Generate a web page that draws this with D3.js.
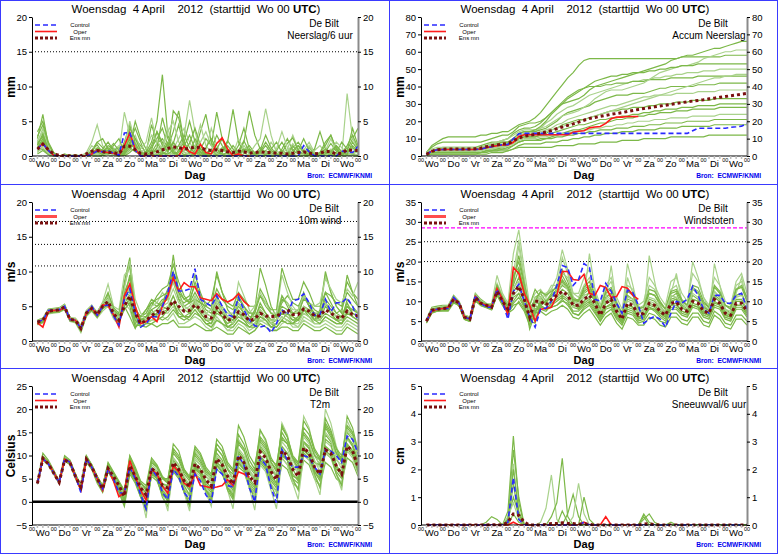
<!DOCTYPE html>
<html>
<head>
<meta charset="utf-8">
<script src="https://cdn.jsdelivr.net/npm/d3@7"></script>
<style>
  body { margin: 0; background: #fff; }
  svg { display: block; font-family: "Liberation Sans", Arial, sans-serif; }
  text { white-space: pre; }
</style>
</head>
<body>
<svg id="chart" width="778" height="554"></svg>
<script>
// time axis: forecast hours after Wo 00 UTC, every 6 hours up to 360
const hours = d3.range(6, 361, 6);
const dayLabels = ['Wo','Do','Vr','Za','Zo','Ma','Di','Wo','Do','Vr','Za','Zo','Ma','Di','Wo'];

// --- Neerslag/6 uur (mm)
const precip6hMembers = [
  [1.5,3.0,1.2,0.2, 0,0,0,0, 0,0,0.3,1.2, 0.8,0.3,0.5,0.2, 2.0,4.5,1.5,0.3, 0.5,2.0,5.0,11.7, 3.0,0.8,0.2,0, 0.5,1.5,0.6,0, 0,0.4,1.2,0.3, 0,0,0.8,1.5, 0.4,0,0,0, 0.2,0.8,0.3,0, 0,0.5,1.2,0.4, 0,0.2,0.8,1.5, 0.6,0.2,0.5,1.0],
  [2.5,6.0,1.5,0.3, 0,0,0,0, 0,0,0.8,2.0, 1.2,0.5,0.2,0, 1.0,2.5,0.8,0.2, 0,0.5,1.8,2.5, 1.2,3.5,6.5,2.0, 0.5,0.2,1.0,0.4, 0,0,0.5,2.0, 6.7,2.0,0.5,0, 0,0.3,0.8,0.2, 0,0,0.4,1.2, 2.0,0.8,0.2,0, 0.5,1.5,3.0,1.0, 0.3,0.8,2.5,4.0],
  [0.5,1.5,0.8,0, 0,0,0.2,0, 0,0.5,2.0,4.5, 1.5,0.8,1.2,0.5, 6.3,3.0,0.8,0.5, 0,0,0.5,1.5, 4.0,1.5,0.5,3.0, 8.0,3.5,0.8,0.3, 1.0,0.3,0,0, 0,0.5,1.5,0.5, 0,0,0.6,2.0, 0.8,0.2,0,0, 0,0,0.3,0.8, 1.5,0.5,0,0, 0,9.0,2.5,1.0],
  [3.5,5.0,2.0,0.5, 0,0,0,0, 0,0,0,0.5, 1.0,2.0,0.8,0.3, 0.5,1.5,5.0,2.5, 1.0,0.3,0,0.5, 2.0,0.8,0,0, 0,0.5,1.0,2.5, 1.5,6.3,2.5,0.5, 0,0,0.3,1.0, 0.5,0,0,0, 0,1.0,2.5,0.8, 0.3,0,0,0, 0.2,0.6,0.3,0, 0,0.5,1.2,0.4],
  [1.0,2.0,0.5,0, 0,0.3,0,0, 0,0,0.6,2.0, 2.5,1.0,0.4,0, 0.3,3.0,1.0,0, 0,0.8,3.5,1.5, 0.5,6.5,5.5,2.0, 0.5,0,0,0.5, 0.8,0.2,0,0, 0,0.5,2.0,6.5, 3.0,1.0,0.2,0, 0,0,0.5,1.5, 0.5,0,0,0, 0,0,0.4,1.2, 0.3,0,0.5,0.8],
  [2.0,4.0,1.5,0, 0,0,0,0, 0,0.2,1.5,0.8, 0.3,0.5,0.2,0.8, 1.5,5.0,2.0,0.5, 0,0.3,1.0,0.5, 0.2,1.0,2.5,4.0, 2.0,0.5,0,0, 0,0.3,0.8,0.5, 0,0,0,0.3, 1.5,2.5,6.8,3.0, 0.5,0,0,0, 0,0.8,2.0,0.5, 0,0.3,1.0,0.3, 0,0.2,0.5,0],
  [1.2,2.5,0.6,0, 0,0,0,0.2, 0,0,0.3,0.6, 0.2,1.5,1.0,0.5, 0.2,0.8,2.5,1.5, 0.5,4.5,2.0,0.5, 0,0,0.8,2.0, 5.0,2.0,0.5,0, 0,0,0.6,1.5, 0.5,0,0,0, 0,0.5,1.5,0.5, 0,0,0,0.5, 1.5,0.6,0.2,0, 0,0,0.2,0.5, 2.0,1.0,0.3,0],
  [0.8,1.0,0.3,0, 0,0,0,0, 0,0,0.5,0.3, 0,0.5,1.5,2.5, 0.5,2.0,4.0,2.0, 0,0,0.2,0.8, 1.5,0.5,0,0.2, 0,0.8,3.5,6.0, 2.0,0.5,0,0, 0,0.3,1.0,0.4, 0,0,0,0.3, 0.8,2.0,0.6,0, 0,0,0.3,1.0, 3.5,1.0,0.2,0, 0,0,0.3,1.5],
  [2.2,3.5,1.0,0.2, 0,0,0,0, 0,0,0,0.2, 0.5,0.2,0,0.3, 0,1.0,3.0,1.0, 2.0,5.5,1.5,0.2, 0,0.5,1.5,0.5, 0,0,0.3,0.8, 4.0,1.5,0.3,0, 0,0,0,0, 0.3,0.8,0.3,0, 0,0.4,1.0,3.0, 1.0,0.2,0,0, 0,0.8,2.5,0.8, 0,0.3,0,0.2],
  [0.3,0.8,0.2,0, 0,0,0,0, 0,0,0,0, 0,0.3,0.6,0.3, 0,0.5,1.2,0.5, 0,0,0,0.3, 0.8,2.0,0.8,0.2, 0,0.3,0.6,0.2, 0,0,0.2,0.5, 1.5,0.5,0,0, 0,0,0.3,0.6, 0.2,0,0,0, 0,0.3,0.8,0.2, 0,0,0,0.3, 0.6,0.2,0,0],
  [1.8,2.8,0.8,0.1, 0,0,0,0, 0,0,0.4,1.0, 0.6,0.8,0.3,0.1, 0.4,1.8,1.0,0.3, 0.3,1.2,2.5,4.0, 1.5,0.3,0.5,1.5, 3.0,1.0,0.2,0, 0.3,1.0,2.5,1.0, 0.2,1.5,4.0,1.0, 0,0,0.2,1.0, 2.0,0.5,0,0, 0,0.2,0.5,0.2, 0.5,2.0,3.0,1.0, 0.2,0.6,1.5,0.6],
  [1.0,1.8,0.5,0, 0,0,0,0, 0,0,0.2,0.4, 0.3,0.2,0.8,1.5, 0.6,3.5,0.8,0, 0,0.2,0.8,1.0, 0.5,0.2,0,0, 0,1.5,4.5,1.5, 0.5,0,0,0.2, 0.8,0.3,0,0, 0,0.2,0.5,0.2, 0,0,0.6,1.8, 0.6,0,0,0, 0,0.2,0.5,0.2, 0,0,0.4,0.6],
  [1.2,2.2,1.0,0.2, 0,0,0,0, 0,0,0.5,1.0, 0.8,1.2,0.6,0.3, 0.8,2.8,1.8,0.4, 0.2,1.5,3.5,2.0, 0.6,1.8,4.5,1.2, 0.3,2.5,1.0,0.2, 0.8,3.0,1.5,0.4, 0,0.8,2.2,0.6, 0.3,1.2,0.5,0, 0,0.5,1.8,2.6, 0.8,0.2,0,0, 0,0.6,1.8,0.7, 0.4,1.5,3.0,1.2],
  [2.8,4.5,1.8,0.4, 0,0,0,0, 0,0.1,0.8,1.6, 0.5,0.3,0.8,1.2, 0.5,4.0,2.5,0.8, 0,0.3,1.2,5.5, 2.5,0.6,0.2,0.8, 1.8,4.0,1.5,0.3, 0,0.2,0.8,2.2, 1.0,0.3,0,0, 0,0.8,3.0,1.2, 0.2,0,0.3,0.8, 1.5,0.5,0,0, 0.3,1.0,0.6,0, 0,0.8,4.0,1.5],
  [0.6,1.2,0.4,0, 0,0,0,0, 0,0,0,0.3, 0.4,0.6,0.3,0.5, 1.2,3.2,1.2,0.6, 1.0,3.0,2.2,1.0, 3.5,5.0,2.0,0.6, 0.2,0.6,2.0,3.5, 1.5,0.4,0,0, 0.3,2.5,1.0,0.3, 0,0,0.5,0.3, 1.0,3.5,1.2,0.3, 0,0.3,1.5,0.5, 0,0,0.6,2.0, 1.2,0.4,0,0.3],
  [1.6,3.2,1.0,0.1, 0,0,0,0, 0,0,0.2,0.6, 0.2,0.8,1.8,0.8, 0.3,1.2,0.6,0.2, 0.5,0.8,0.6,0.4, 0.3,0.8,1.5,3.0, 1.2,0.4,0.2,1.2, 2.5,1.0,0.3,0, 0,0.4,1.0,0.8, 0.2,0.6,2.0,0.8, 0.3,0,0,0.2, 0.8,2.5,0.8,0.2, 0,0.3,0.6,1.5, 0.6,0.2,2.0,0.8]
];
const precip6hControl = [1.0,1.8,0.8,0.1, 0,0,0,0, 0,0,0.3,0.7, 0.6,0.8,0.4,0.1, 3.3,3.4,0.8,0, 0,0,0,0, 0,0,0,0, 0,0,0,0, 0,0,0,0, 0,0,0,0, 0,0,0,0, 0,0,0,0, 0,1.5,0.6,0, 0,0,0,0, 0.7,0.6,0.5,1.4];
const precip6hOper = [1.0,1.8,0.8,0.1, 0,0,0,0, 0,0,0.3,0.8, 0.6,0.5,0.4,0.1, 1.5,3.3,1.0,0, 0,0,0,0, 0,0,0,1.4, 0.6,0.3,1.7,0.5, 0.3,1.8,2.6,1.0, 0,0.3,0,0];
const precip6hMean = [1.0,1.7,0.9,0.3, 0.1,0.05,0.05,0.05, 0.05,0.3,0.7,0.8, 0.6,0.5,0.5,0.3, 1.4,1.4,0.9,0.4, 0.3,0.4,0.6,0.9, 1.1,1.3,1.2,1.0, 1.1,1.3,1.2,0.9, 0.8,0.9,0.8,0.6, 0.5,0.7,0.6,0.4, 0.5,0.6,0.5,0.5, 0.4,0.4,0.3,0.4, 0.5,0.6,0.4,0.3, 0.4,0.7,0.6,0.3, 0.4,0.9,0.8,0.8];

// --- Accum Neerslag (mm)
const precipAccMembers = [
  [1,3,4,5, 5,5,5,5, 5,5,6,7, 8,8,9,10, 13,15,16,16, 17,19,22,25, 28,30,31,32, 33,35,38,40, 41,42,43,44, 45,46,47,48, 49,50,51,52, 53,55,56,57, 58,58,59,60, 61,62,62,63, 64,65,66,66],
  [2,6,8,10, 11,11,11,11, 11,11,12,12, 13,13,14,14, 16,18,19,20, 22,25,29,33, 37,41,45,48, 52,55,56,56, 56,56,56,56, 56,56,56,56, 56,56,56,56, 56,56,56,57, 57,57,57,57, 57,57,57,58, 58,58,58,58],
  [1,2,3,3, 3,3,3,3, 3,3,4,5, 6,6,7,7, 9,12,13,13, 14,16,19,21, 24,26,28,29, 31,33,35,36, 37,38,39,40, 41,42,43,43, 44,44,45,45, 46,46,47,47, 48,48,48,49, 49,49,50,50, 50,50,50,50],
  [2,5,7,8, 8,8,8,8, 8,8,8,9, 10,11,12,12, 14,17,18,19, 19,20,22,25, 28,31,34,36, 38,39,40,40, 40,41,41,42, 42,42,43,43, 43,44,44,44, 44,45,45,45, 45,45,46,46, 46,46,46,46, 46,46,46,46],
  [1,3,4,4, 4,4,4,4, 4,4,5,6, 7,7,8,8, 10,13,14,14, 14,15,16,18, 20,23,25,26, 27,28,29,31, 32,33,34,35, 35,35,36,36, 36,37,38,39, 39,40,40,40, 40,40,41,41, 41,41,42,42, 42,42,42,42],
  [1,2,2,2, 2,2,2,2, 2,2,3,4, 5,5,6,7, 9,11,12,12, 13,14,15,16, 18,19,21,22, 23,24,25,26, 27,28,29,29, 30,31,32,33, 34,34,35,35, 35,35,36,36, 36,36,37,37, 37,37,38,38, 38,38,38,38],
  [0.5,1,1,1, 1,1,1,1, 1,1,2,3, 4,4,5,6, 8,10,11,11, 11,12,13,15, 16,18,19,20, 21,21,22,23, 24,25,26,26, 27,27,28,28, 28,29,29,30, 30,30,31,31, 31,32,32,32, 32,33,33,33, 33,33,33,33],
  [1,2,2,2, 2,2,2,2, 2,2,2,3, 3,3,4,4, 6,8,9,9, 9,10,10,11, 12,13,14,15, 15,16,17,18, 19,19,20,21, 21,22,22,23, 23,24,24,25, 25,25,26,26, 26,27,27,27, 27,27,28,28, 28,28,28,28],
  [1,2,3,3, 3,3,3,3, 3,3,3,4, 4,5,5,6, 7,9,10,10, 10,11,11,12, 12,13,13,14, 14,15,15,16, 16,17,17,18, 18,19,19,20, 20,20,21,21, 21,22,22,22, 22,23,23,23, 23,23,24,24, 24,24,24,24],
  [0.5,1,1,1, 1,1,1,1, 1,1,1,1, 2,2,2,3, 4,6,7,7, 7,7,8,8, 8,9,9,10, 10,11,11,12, 12,13,13,13, 14,14,14,15, 15,15,15,16, 16,16,16,17, 17,17,17,17, 17,18,18,18, 18,18,18,18],
  [1,2,2,2, 2,2,2,2, 2,2,2,2, 3,3,3,3, 4,5,5,5, 5,5,5,5, 6,6,6,6, 7,7,7,7, 8,8,8,8, 9,9,9,9, 10,10,10,10, 10,11,11,11, 11,11,11,11, 12,12,12,12, 12,12,12,12],
  [2,4,5,5, 5,5,5,5, 5,5,5,6, 7,8,9,10, 12,14,15,15, 15,16,17,19, 21,23,24,25, 26,28,30,33, 35,37,38,38, 38,39,40,41, 42,44,46,48, 49,50,51,52, 52,53,54,56, 57,58,59,60, 60,61,61,61],
  [1,2,3,3, 3,3,3,3, 3,3,4,5, 6,7,8,8, 10,13,14,14, 15,17,20,24, 27,30,33,35, 37,39,41,43, 44,45,46,46, 47,47,48,48, 48,49,49,50, 50,51,51,52, 52,52,53,53, 53,53,53,53, 53,53,53,53],
  [1,3,4,4, 4,4,4,4, 4,4,4,5, 5,6,6,7, 8,10,11,11, 11,12,12,13, 14,15,16,17, 18,18,19,20, 21,21,22,22, 23,23,24,24, 25,25,26,26, 27,27,27,28, 28,28,29,29, 29,29,30,30, 30,30,30,30],
  [1,2,3,3, 3,3,3,3, 3,3,3,4, 5,5,6,6, 8,11,12,12, 12,13,14,15, 16,17,18,19, 20,21,22,23, 24,25,26,27, 28,29,30,31, 32,33,34,35, 36,37,38,39, 40,41,42,43, 44,45,45,46, 46,47,47,47],
  [1,2,2,2, 2,2,2,2, 2,2,2,3, 3,4,4,5, 6,8,9,9, 9,9,10,10, 11,11,12,12, 13,13,14,14, 15,15,15,16, 16,16,17,17, 17,18,18,18, 19,19,19,19, 20,20,20,20, 20,21,21,21, 21,21,21,21]
];
const precipAccControl = [1.0,2.8,3.6,3.7, 3.7,3.7,3.7,3.7, 3.7,3.7,4.0,4.7, 5.3,6.1,6.5,6.6, 9.9,12.8,13.0,13.0, 13.0,13.0,13.0,13.0, 13.0,13.0,13.0,13.0, 13.0,13.0,13.0,13.0, 13.0,13.0,13.0,13.0, 13.0,13.0,13.0,13.0, 13.0,13.0,13.0,13.0, 13.0,13.0,13.0,13.0, 13.0,14.5,16.0,16.0, 16.0,16.0,16.0,16.0, 16.5,16.8,17.2,18.8];
const precipAccOper = [1.0,2.8,3.6,3.7, 3.7,3.7,3.7,3.7, 3.7,3.7,4.0,4.8, 5.4,5.9,6.3,6.4, 7.9,11.2,12.2,12.2, 12.2,12.2,12.2,12.2, 12.2,12.2,12.2,13.6, 14.2,14.5,16.2,16.7, 17.0,18.8,21.4,22.4, 22.4,22.7,22.7,22.7];
const precipAccMean = [1.0,2.7,3.6,3.9, 4.0,4.0,4.0,4.0, 4.1,4.2,4.5,5.3, 5.9,6.4,6.9,7.2, 8.6,10.4,11.3,12.0, 12.5,13.1,13.8,14.7, 15.7,16.7,17.6,18.5, 19.5,20.6,21.6,22.2, 22.8,23.4,24.0,24.5, 25.0,25.6,26.2,26.8, 27.3,27.8,28.3,28.8, 29.2,29.7,30.2,30.7, 31.2,31.6,32.0,32.4, 32.9,33.3,33.8,34.2, 34.7,35.1,35.6,36.0];

// --- 10m wind (m/s)
const windMembers = [
  [2.5,2.8,4.0,4.2, 4.3,4.6,3.0,2.8, 1.5,3.8,4.5,3.5, 4.8,5.5,3.8,2.5, 7.0,9.0,3.5,2.5, 3.0,4.5,5.0,6.0, 6.0,9.5,6.0,4.5, 4.0,5.0,4.0,3.0, 2.5,4.5,3.5,2.0, 2.5,3.5,3.0,2.0, 2.5,4.0,3.5,2.5, 2.0,3.0,4.0,3.5, 3.0,4.0,3.5,2.5, 2.5,3.5,3.0,2.5, 2.5,4.5,3.5,3.0],
  [3.0,3.3,4.6,4.7, 4.8,5.3,3.3,3.1, 2.0,4.3,5.0,4.2, 5.5,6.2,4.5,3.5, 8.5,12.0,4.5,3.5, 3.5,4.0,4.5,5.5, 6.0,12.4,7.0,5.0, 5.5,7.0,5.5,4.0, 3.5,6.0,4.5,3.0, 3.5,5.5,4.0,3.0, 4.0,7.5,6.0,4.0, 3.5,6.0,5.5,4.0, 4.5,7.0,5.0,3.5, 3.5,5.5,4.0,3.0, 3.0,6.0,5.0,4.0],
  [2.3,2.6,3.9,4.0, 4.1,4.5,2.8,2.6, 1.2,3.5,4.3,3.3, 4.3,5.0,3.2,2.2, 5.5,4.5,2.0,2.5, 3.0,3.5,3.5,4.0, 4.0,5.0,3.5,3.0, 3.5,4.5,3.5,2.5, 2.0,3.5,2.5,1.5, 2.0,3.0,2.5,1.5, 2.0,3.0,2.5,2.0, 1.5,2.5,3.0,2.5, 2.0,3.0,2.5,2.0, 2.0,2.5,2.0,1.5, 1.5,2.5,2.0,1.5],
  [2.8,3.2,4.4,4.5, 4.6,5.0,3.2,3.1, 2.2,4.2,4.9,4.0, 5.2,6.5,4.5,3.8, 7.5,7.0,3.0,3.5, 4.5,5.5,5.0,5.5, 7.5,8.5,6.0,5.5, 6.0,8.0,6.0,4.5, 4.0,6.5,5.0,3.5, 3.0,6.5,5.0,3.5, 3.5,5.0,4.0,3.0, 3.5,5.5,6.5,5.5, 5.0,6.5,5.0,4.0, 4.0,6.0,5.0,4.0, 4.5,7.0,6.0,5.0],
  [2.6,3.0,4.2,4.3, 4.4,4.8,3.0,2.9, 1.7,3.9,4.6,3.6, 4.9,5.8,4.0,3.2, 6.5,5.0,2.0,2.8, 3.5,4.0,3.8,4.2, 4.5,5.5,4.0,3.5, 3.0,4.0,3.5,2.5, 2.5,4.0,3.5,2.0, 2.5,4.5,3.5,2.5, 3.0,4.5,3.5,2.5, 3.0,4.0,3.5,3.0, 3.5,5.0,4.5,3.0, 3.0,4.0,3.5,3.0, 2.5,3.5,3.0,2.5],
  [2.9,3.1,4.5,4.6, 4.7,5.1,3.4,3.3, 2.3,4.4,5.2,4.1, 5.6,8.2,5.0,4.5, 9.5,10.5,3.0,3.0, 2.5,3.0,3.5,4.5, 5.0,6.5,4.5,4.5, 5.0,6.5,5.0,4.0, 3.5,5.5,4.0,3.0, 3.5,8.5,6.5,4.5, 3.0,4.0,3.0,2.5, 4.0,9.5,7.0,5.0, 4.0,5.0,4.0,3.0, 4.0,9.5,7.0,5.0, 4.0,5.0,4.5,4.0],
  [2.4,2.7,4.1,4.2, 4.2,4.7,2.9,2.7, 1.4,3.7,4.4,3.4, 4.6,5.2,3.6,2.6, 6.0,6.0,2.5,3.2, 3.0,3.5,4.0,5.0, 7.0,10.0,7.5,6.0, 6.5,9.5,7.0,5.0, 4.5,10.0,7.0,4.5, 3.5,5.0,4.0,2.5, 2.5,3.5,3.0,2.0, 2.5,3.5,3.0,2.5, 3.5,6.5,5.0,4.0, 3.0,5.0,4.0,3.0, 3.5,5.5,4.0,3.5],
  [2.7,3.1,4.3,4.4, 4.5,4.9,3.1,3.0, 1.9,4.1,4.8,3.8, 5.0,5.5,4.0,3.0, 5.0,3.5,1.8,3.5, 4.5,6.0,5.5,5.0, 4.5,5.5,3.5,3.5, 4.0,5.5,4.0,3.0, 3.0,4.5,3.5,2.5, 3.0,4.0,3.5,3.0, 4.5,10.5,8.0,5.0, 3.5,4.5,4.0,3.0, 3.0,4.5,3.5,3.0, 4.5,10.0,7.0,5.0, 4.0,9.5,7.0,5.0],
  [2.6,2.9,4.2,4.4, 4.4,4.8,3.0,2.9, 1.6,3.9,4.6,3.7, 5.1,6.0,3.8,2.8, 5.5,8.0,3.0,2.0, 2.5,3.0,3.0,3.5, 3.0,4.0,2.5,2.5, 3.0,3.5,3.0,2.0, 1.5,3.0,2.5,1.5, 1.5,2.5,2.0,1.0, 1.5,3.0,3.0,2.5, 2.5,3.5,3.0,2.0, 2.0,3.5,3.0,2.5, 2.5,3.0,2.5,2.0, 2.0,3.0,2.5,2.0],
  [2.8,3.0,4.4,4.5, 4.6,5.0,3.2,3.0, 1.8,4.1,4.7,3.9, 5.1,6.8,4.8,4.0, 8.0,11.0,5.0,3.0, 3.5,5.0,6.5,7.5, 8.0,11.0,8.5,6.5, 5.5,6.0,5.5,5.0, 6.0,9.5,7.0,5.5, 5.0,7.0,6.0,5.0, 5.0,6.5,5.5,4.5, 4.5,10.5,8.0,6.0, 6.0,8.5,7.0,5.0, 5.0,7.0,6.5,5.5, 5.0,8.5,7.0,6.0],
  [2.5,2.9,4.3,4.4, 4.5,4.9,3.1,2.9, 1.7,4.0,4.7,3.8, 4.9,5.6,3.9,3.1, 7.0,6.5,2.3,2.2, 2.5,2.5,2.0,2.5, 2.5,3.0,2.0,2.0, 2.0,2.5,2.0,1.5, 1.5,2.0,1.5,1.0, 1.0,2.0,1.5,1.0, 1.5,2.5,2.0,1.5, 1.5,2.0,2.0,1.5, 1.5,2.5,2.0,1.5, 1.5,2.0,1.5,1.0, 1.0,2.0,1.5,1.0],
  [2.7,3.0,4.3,4.4, 4.5,4.9,3.1,3.0, 1.8,4.0,4.7,3.8, 5.0,5.7,4.0,3.0, 6.5,7.5,2.8,3.5, 4.0,5.0,5.5,7.0, 6.0,8.5,6.5,5.0, 4.5,5.5,4.5,4.0, 4.5,6.0,5.0,4.0, 4.0,5.5,4.5,4.0, 5.0,7.0,5.5,4.0, 4.0,6.5,5.5,4.5, 4.5,6.5,5.5,5.0, 5.5,9.0,7.5,6.0, 5.5,7.5,6.5,8.5],
  [2.6,3.1,4.4,4.6, 4.6,5.2,3.3,3.1, 2.0,4.2,4.9,3.9, 5.3,7.0,4.5,3.5, 6.0,9.5,4.5,3.5, 4.0,5.5,6.0,6.5, 7.0,9.0,7.0,6.0, 5.5,8.5,6.5,5.5, 5.0,7.5,6.0,5.0, 4.5,6.0,5.0,4.0, 4.0,6.5,5.0,4.0, 3.5,5.0,4.5,4.0, 4.0,6.0,5.5,4.5, 4.0,5.5,4.5,3.5, 3.5,5.0,4.5,4.0],
  [2.5,2.7,4.0,4.1, 4.2,4.6,2.9,2.8, 1.6,3.8,4.5,3.6, 4.7,5.4,3.6,2.8, 4.5,5.5,3.5,3.0, 3.5,4.5,3.5,3.0, 3.5,4.5,3.5,3.0, 3.5,6.0,4.5,3.5, 3.0,5.0,4.0,3.0, 2.5,4.0,3.0,2.5, 3.0,5.5,4.0,3.0, 3.0,6.5,5.0,3.5, 3.0,4.5,4.0,3.0, 3.5,7.0,5.5,4.0, 3.5,5.0,4.0,3.5],
  [2.9,3.2,4.5,4.6, 4.7,5.2,3.3,3.2, 2.1,4.3,5.0,4.0, 5.4,6.4,4.3,3.4, 7.5,11.5,6.0,4.0, 3.0,4.0,4.5,5.0, 5.5,7.5,5.5,5.0, 4.5,6.0,4.5,3.5, 3.0,5.5,4.5,3.5, 2.5,4.5,3.5,2.5, 2.5,4.5,3.5,3.0, 3.0,4.5,3.5,2.5, 2.5,4.0,3.5,3.0, 3.0,5.5,4.5,3.5, 3.0,4.5,3.5,3.0],
  [2.4,2.8,4.1,4.3, 4.3,4.7,3.0,2.8, 1.5,3.8,4.5,3.6, 4.7,5.3,3.7,2.7, 5.0,6.0,3.0,2.2, 2.0,2.5,3.0,3.5, 4.5,6.5,4.5,3.5, 3.5,4.5,3.5,2.5, 2.0,3.0,2.5,2.0, 2.0,3.0,2.5,2.0, 2.0,3.5,3.0,2.0, 2.0,3.0,2.5,2.5, 3.0,4.5,4.0,3.0, 2.5,3.5,3.0,2.5, 2.5,4.0,3.5,3.0]
];
const windControl = [2.8,3.0,4.4,4.5, 4.5,5.0,3.1,3.0, 1.8,4.0,5.0,3.7, 5.0,5.2,3.6,2.3, 6.0,7.5,4.0,2.0, 2.5,3.5,3.5,5.0, 7.0,10.0,7.2,7.2, 7.5,10.4,6.0,5.5, 5.0,6.5,5.0,3.8, 3.5,6.3,4.5,3.0, 2.2,2.0,2.2,1.2, 2.5,4.5,3.8,5.8, 6.0,6.8,5.5,3.7, 3.8,6.0,4.2,5.5, 5.5,6.2,5.0,3.0];
const windOper = [2.6,2.0,4.2,4.4, 4.4,4.8,3.1,3.0, 1.8,4.0,4.8,3.7, 5.2,5.1,3.8,2.0, 6.5,8.2,5.0,2.5, 2.8,3.5,2.8,5.0, 6.5,9.1,7.2,8.4, 7.8,7.8,6.2,6.0, 5.8,6.8,6.0,5.6, 6.0,6.8,5.7,5.0];
const windMean = [2.7,3.0,4.3,4.4, 4.5,4.9,3.1,3.0, 1.8,4.0,4.7,3.8, 5.0,5.7,4.0,3.0, 5.0,6.5,4.0,2.5, 3.0,3.6,4.3,4.0, 4.6,5.8,5.0,4.3, 4.4,5.2,4.6,3.5, 3.3,4.8,3.8,3.0, 3.2,4.2,3.8,2.9, 3.2,4.0,3.6,3.5, 3.6,4.0,4.5,3.8, 3.8,4.6,4.3,3.6, 3.6,4.5,4.0,3.5, 3.3,4.3,3.8,3.6];

// --- Windstoten (m/s)
const gustMembers = [
  [5.5,8.5,8.8,9.0, 9.0,11.5,10.0,6.5, 6.0,12.0,10.5,9.5, 9.0,14.0,11.0,9.0, 16.0,20.0,14.0,8.0, 5.0,9.0,10.0,12.0, 14.0,18.0,15.0,11.0, 10.0,13.0,14.0,11.0, 7.0,11.0,12.0,8.0, 6.0,11.5,10.5,7.0, 8.0,12.0,11.5,9.0, 7.0,11.0,12.0,9.0, 8.0,13.0,12.0,9.0, 7.5,12.5,11.0,8.0, 7.0,11.5,12.0,9.0],
  [4.5,7.0,7.5,7.5, 7.5,9.5,9.0,5.5, 5.0,10.0,9.0,8.5, 8.0,11.5,9.0,7.0, 8.0,10.0,8.0,5.0, 8.0,9.0,8.0,8.5, 9.0,10.5,9.0,7.0, 6.5,8.0,9.0,7.0, 5.0,7.0,8.0,5.5, 4.0,7.0,6.5,4.5, 5.0,7.0,6.5,5.0, 4.5,7.0,7.0,5.5, 5.0,7.0,7.0,5.0, 4.5,7.5,6.5,4.5, 4.0,6.5,6.5,5.0],
  [5.2,8.0,8.2,8.5, 8.5,11.0,9.8,6.2, 5.8,11.5,10.0,9.2, 9.5,16.5,12.0,9.5, 22.0,28.0,18.0,9.0, 12.0,13.0,11.0,13.0, 16.0,23.0,18.0,12.0, 11.0,14.0,16.0,12.0, 8.0,13.0,15.0,10.0, 7.0,19.5,14.0,8.0, 9.0,14.0,13.0,10.0, 8.0,13.0,14.0,10.0, 9.0,20.0,16.0,11.0, 8.0,14.0,12.0,9.0, 8.0,14.0,15.0,10.0],
  [4.8,7.5,7.8,8.0, 8.0,10.0,9.0,5.8, 5.2,10.5,9.2,8.8, 8.0,12.0,9.5,7.5, 10.0,12.0,9.0,4.0, 9.0,8.0,7.5,9.0, 10.0,11.0,10.0,7.5, 7.5,9.0,10.0,8.0, 5.5,8.5,9.0,6.5, 4.5,8.0,7.5,5.5, 6.0,8.0,8.0,6.5, 5.5,8.5,8.5,7.0, 6.5,9.0,8.5,6.5, 6.0,9.0,8.5,6.0, 5.5,8.5,8.5,6.5],
  [5.0,7.8,8.0,8.2, 8.3,10.8,9.5,6.0, 5.5,11.0,9.5,9.0, 8.5,13.0,10.5,8.5, 13.0,16.0,12.0,7.0, 11.0,12.0,10.0,11.0, 12.0,14.0,13.0,10.0, 10.0,12.0,13.0,10.5, 7.0,11.0,12.0,8.5, 6.0,10.5,10.0,7.0, 7.5,10.5,10.0,8.0, 7.0,10.5,11.0,9.0, 8.0,11.5,10.5,8.5, 7.5,11.5,10.5,7.5, 7.0,10.5,10.5,8.0],
  [5.3,8.2,8.5,8.7, 8.8,11.2,10.0,6.5, 6.0,11.8,10.2,9.5, 9.0,13.5,10.5,8.0, 14.0,24.0,15.0,4.5, 6.0,11.0,11.5,14.0, 14.0,21.0,17.0,11.0, 9.0,11.0,22.0,13.0, 6.0,10.0,19.0,9.0, 5.0,16.0,12.0,6.0, 7.0,21.5,15.0,8.0, 6.0,12.0,17.0,10.0, 7.0,13.0,12.0,8.0, 6.0,19.5,14.0,8.0, 6.0,12.0,16.0,10.0],
  [4.7,7.3,7.6,7.8, 7.8,10.0,9.0,5.5, 5.0,10.5,9.0,8.5, 8.0,11.8,9.5,7.5, 11.0,12.0,9.0,5.0, 10.0,9.0,8.0,9.5, 10.5,11.5,10.5,8.5, 8.0,9.5,10.5,8.5, 6.0,8.5,9.5,7.0, 5.0,8.5,8.0,6.0, 6.5,8.5,8.0,7.0, 6.0,9.0,9.0,7.5, 7.0,9.0,8.5,7.0, 6.5,9.5,9.0,6.5, 6.0,9.0,9.0,7.0],
  [5.1,7.9,8.1,8.3, 8.4,10.6,9.6,6.1, 5.6,11.1,9.6,9.1, 8.6,12.6,10.2,8.2, 12.5,14.0,10.5,3.0, 7.0,10.0,9.0,10.0, 11.0,13.0,12.0,9.0, 8.5,10.0,11.0,9.0, 6.5,9.5,10.5,7.0, 5.0,9.0,8.5,6.0, 6.5,9.0,8.5,7.0, 6.0,9.0,9.5,7.5, 7.0,9.5,9.0,7.0, 6.5,10.0,9.0,6.5, 6.0,9.0,9.0,7.0],
  [4.9,7.6,7.9,8.1, 8.2,10.3,9.4,5.9, 5.4,10.8,9.4,8.9, 8.4,12.3,9.8,7.8, 11.5,13.0,10.0,6.0, 11.0,10.5,9.5,10.0, 11.0,12.0,11.0,8.5, 9.0,10.0,11.0,9.0, 7.0,10.0,11.0,8.0, 6.0,10.0,9.5,7.0, 7.5,10.0,9.5,8.0, 7.0,10.0,10.5,8.5, 8.0,10.5,10.0,8.0, 7.5,11.0,10.0,7.5, 7.0,10.0,10.0,8.0],
  [5.0,7.7,8.0,8.3, 8.4,10.6,9.6,6.1, 5.6,11.2,9.7,9.1, 8.7,13.0,10.5,8.5, 14.0,18.0,13.0,9.0, 13.0,11.0,9.5,11.5, 13.0,15.0,13.0,10.0, 10.5,12.5,13.5,11.0, 8.0,12.5,13.5,9.5, 7.0,12.5,12.0,8.5, 8.5,12.0,11.5,9.5, 8.0,12.0,12.5,10.0, 9.0,13.5,12.5,9.5, 8.5,14.0,12.5,9.0, 8.0,13.0,13.5,10.0],
  [4.6,7.2,7.5,7.7, 7.7,9.8,8.8,5.4, 4.9,10.3,8.9,8.4, 7.8,11.5,9.0,7.0, 9.0,9.5,7.5,4.0, 7.0,7.5,6.5,7.5, 8.0,9.0,8.0,6.0, 5.5,7.0,8.0,6.0, 4.0,6.0,7.0,4.5, 3.0,6.0,5.5,4.0, 4.0,6.0,5.5,4.0, 3.5,6.0,6.0,4.5, 4.0,6.0,6.0,4.0, 3.5,6.5,5.5,3.5, 3.0,5.5,5.5,4.0],
  [5.2,8.1,8.3,8.6, 8.7,11.0,9.9,6.3, 5.8,11.6,10.0,9.3, 9.2,14.5,11.5,9.0, 17.0,25.5,16.0,7.0, 9.0,12.0,12.0,13.0, 13.0,17.0,16.0,12.0, 12.0,16.0,18.0,13.0, 9.0,14.0,16.0,11.0, 8.0,14.0,13.0,9.0, 10.0,16.0,14.0,11.0, 9.0,15.0,16.0,12.0, 10.0,17.0,15.0,11.0, 9.0,16.0,14.0,10.0, 9.0,15.0,17.0,12.0],
  [5.1,8.0,8.2,8.4, 8.6,10.9,9.7,6.2, 5.7,11.3,9.8,9.2, 8.8,13.8,11.0,8.8, 15.0,21.5,14.5,8.5, 10.0,12.5,11.5,12.5, 13.5,16.5,14.0,10.5, 10.0,13.5,15.0,11.5, 8.0,12.0,13.0,9.0, 6.5,12.5,11.5,8.0, 8.5,13.0,12.5,10.0, 8.0,12.5,13.0,10.5, 9.0,14.0,13.5,10.0, 8.5,13.5,12.0,9.0, 8.5,13.0,14.0,11.0],
  [4.9,7.4,7.7,7.9, 8.0,10.2,9.2,5.7, 5.2,10.6,9.2,8.7, 8.2,12.0,9.5,7.0, 9.5,11.0,8.5,5.5, 7.5,8.5,8.0,8.5, 9.0,10.0,9.5,7.0, 6.5,8.5,9.5,7.5, 5.0,8.0,8.5,6.0, 4.5,7.5,7.0,5.0, 5.5,8.5,7.5,6.0, 5.0,8.0,8.0,6.5, 6.0,8.5,8.0,6.0, 5.5,8.5,8.0,5.5, 5.0,8.0,8.0,6.0],
  [5.0,7.7,8.0,8.2, 8.3,10.5,9.5,6.0, 5.5,11.0,9.5,9.0, 8.5,13.5,10.5,8.0, 13.5,15.0,11.5,6.5, 9.0,11.0,10.5,11.0, 12.0,14.5,13.0,10.0, 9.5,11.5,12.0,10.0, 7.5,10.5,11.5,8.5, 6.5,11.0,10.5,7.5, 8.0,11.0,10.5,8.5, 7.5,11.5,11.0,9.5, 8.5,12.0,11.0,9.0, 8.0,12.5,11.0,8.0, 7.5,11.0,11.5,9.0],
  [5.2,8.0,8.3,8.5, 8.6,11.0,9.8,6.3, 5.8,11.5,9.9,9.3, 9.0,14.0,10.8,8.3, 16.5,18.5,12.5,5.0, 4.5,9.5,10.0,11.5, 12.5,15.5,13.5,10.0, 8.0,10.0,12.5,10.0, 6.5,9.5,10.0,7.0, 5.5,9.0,8.5,6.0, 6.0,9.5,9.0,7.5, 6.5,10.0,10.5,8.5, 7.5,10.5,10.0,7.5, 7.0,11.0,10.0,7.0, 6.5,10.0,10.0,7.5]
];
const gustControl = [5.0,7.8,8.0,8.2, 8.2,11.0,9.5,6.0, 5.5,11.5,9.5,8.5, 8.5,13.0,9.8,5.5, 12.5,14.3,10.0,6.0, 3.5,8.0,8.3,10.0, 14.0,19.0,18.5,14.0, 15.5,19.5,18.5,10.5, 10.0,14.5,12.5,9.5, 7.0,12.8,12.2,9.0, 4.5,5.5,6.2,5.5, 3.5,7.0,10.0,9.5, 10.5,13.8,11.5,8.0, 7.0,11.5,11.5,9.5, 9.5,11.5,12.0,8.0];
const gustOper = [5.0,7.5,8.0,8.2, 8.5,10.7,9.5,6.0, 5.5,11.2,9.5,9.0, 8.5,13.2,10.5,6.5, 18.5,17.0,12.0,9.0, 5.0,8.0,8.2,8.5, 11.5,17.5,17.5,15.5, 15.3,16.8,12.0,11.5, 14.0,13.5,11.0,11.2, 13.7,13.3,11.5,10.5];
const gustMean = [5.0,7.8,8.0,8.2, 8.3,10.5,9.5,6.0, 5.5,11.0,9.5,9.0, 8.5,12.5,10.0,8.0, 12.0,13.8,10.5,6.0, 10.0,10.0,9.0,10.5, 11.5,12.5,11.5,9.0, 9.0,10.5,11.5,9.5, 6.5,9.5,10.5,7.5, 5.5,9.5,9.0,6.5, 7.0,9.5,9.0,7.5, 6.5,9.5,9.8,8.0, 7.5,10.0,9.5,7.5, 7.0,10.5,9.5,7.0, 6.5,9.5,9.5,7.5];

// --- T2m (Celsius)
const t2mMembers = [
  [4.2,10.5,9.0,6.8, 4.5,10.0,9.0,6.0, 3.5,10.0,8.0,5.5, 3.5,8.0,6.0,4.0, 2.0,9.5,7.0,4.0, 2.5,8.5,7.5,5.0, 4.0,10.5,9.0,6.0, 4.5,10.0,8.5,6.0, 5.0,11.5,10.0,7.0, 5.0,12.5,11.0,7.5, 6.0,13.0,11.5,8.5, 6.5,14.0,12.5,9.0, 7.5,15.0,13.5,10.0, 8.0,16.5,14.5,10.5, 8.5,18.5,16.0,11.0],
  [3.8,9.0,8.0,6.0, 4.0,8.8,8.0,5.2, 3.0,8.8,7.2,4.8, 2.5,6.8,5.0,3.0, 0.5,6.5,4.5,1.5, -0.5,5.5,4.5,1.5, 1.0,6.5,5.0,2.5, 1.5,6.0,5.0,2.5, 1.5,7.0,6.0,3.0, 1.5,7.5,6.5,3.0, 1.5,8.5,7.0,3.5, 2.5,8.0,7.0,4.0, 3.0,9.0,8.0,5.0, 3.5,8.5,7.5,5.0, 4.0,9.5,8.5,5.5],
  [4.1,9.8,8.5,6.5, 4.4,9.5,8.8,5.8, 3.3,9.5,7.8,5.2, 3.0,7.5,5.5,3.5, 1.5,8.5,6.0,3.0, 1.0,8.0,7.0,4.0, 3.5,9.5,8.0,5.0, 2.5,11.0,9.5,6.5, 4.5,12.5,11.0,7.5, 5.0,13.5,11.5,7.0, 5.0,15.5,13.0,8.0, 5.5,17.0,14.5,9.0, 6.5,18.5,16.0,10.5, 7.5,20.0,17.0,12.0, 9.0,17.5,15.0,10.0],
  [3.9,9.2,8.0,6.0, 4.0,8.8,8.2,5.0, 2.5,8.5,7.0,4.0, 2.0,6.5,4.5,2.0, -1.0,6.0,4.0,1.0, -2.0,6.0,5.0,1.0, -1.0,7.0,5.5,2.0, -1.0,7.5,6.0,2.0, 0.0,8.5,7.0,3.0, 1.0,9.0,7.5,3.5, 2.0,10.0,8.5,4.5, 3.0,10.5,9.0,5.0, 4.0,12.0,10.5,6.5, 4.5,11.0,10.0,6.5, 5.0,12.0,10.5,7.0],
  [4.0,9.5,8.4,6.3, 4.3,9.2,8.6,5.6, 3.4,9.4,7.6,5.0, 3.2,7.8,6.0,4.0, 2.5,9.0,6.5,4.0, 3.0,8.5,7.5,5.0, 5.0,11.5,10.0,7.0, 5.5,12.0,10.5,7.5, 6.0,13.5,12.0,8.5, 7.0,16.5,14.0,10.0, 8.0,14.0,12.5,9.0, 8.0,15.0,13.0,9.5, 8.5,14.5,13.0,10.0, 9.0,16.0,14.0,10.5, 9.5,16.5,15.0,11.0],
  [4.0,9.0,8.0,6.0, 4.1,8.8,8.3,5.4, 3.0,9.0,7.3,4.8, 2.5,7.0,5.2,3.2, 0.0,7.0,5.0,2.0, -3.5,6.5,5.5,2.0, -2.0,7.5,6.0,2.0, -2.0,6.5,5.5,2.0, -1.0,7.5,6.5,2.5, -1.5,8.0,7.0,3.0, -1.8,8.0,6.5,2.5, -1.5,9.5,8.0,4.0, 0.5,10.0,9.0,5.0, 1.5,12.0,10.5,6.0, 2.5,12.5,11.0,6.5],
  [4.2,9.6,8.5,6.5, 4.4,9.4,8.7,5.8, 3.5,9.6,8.0,5.5, 3.5,8.5,6.5,4.5, 2.5,10.0,7.5,4.5, 3.5,9.5,8.0,5.5, 4.5,12.5,11.0,7.0, 5.0,10.5,9.0,6.5, 5.5,11.5,10.0,7.0, 6.0,13.0,11.5,8.0, 6.5,13.5,12.0,8.5, 7.0,13.5,12.5,9.5, 8.0,16.0,14.5,11.0, 9.0,14.5,13.0,10.5, 9.0,15.0,13.5,10.0],
  [3.8,9.1,8.1,6.1, 4.1,8.9,8.2,5.3, 2.8,8.8,7.2,4.5, 2.2,6.5,4.8,2.5, -0.5,6.5,4.5,1.0, -1.0,6.0,5.0,1.5, 0.5,7.0,6.0,2.0, 0.5,7.5,6.0,2.5, 1.0,8.0,6.5,3.0, 2.0,8.5,7.0,4.0, 2.5,9.5,8.0,5.0, 3.5,10.0,9.0,5.5, 5.0,11.0,10.0,7.0, 5.5,10.5,9.5,7.0, 6.0,11.5,10.0,7.0],
  [4.1,9.7,8.4,6.4, 4.3,9.1,8.5,5.6, 3.2,9.3,7.6,5.1, 2.9,7.3,5.6,3.6, 1.5,7.5,5.5,3.5, 2.0,7.5,6.5,4.0, 3.0,8.5,7.5,5.0, 4.0,9.0,8.0,5.5, 4.5,9.5,8.5,6.0, 5.0,10.5,9.0,6.5, 5.5,11.0,10.0,7.0, 6.0,11.5,10.5,7.5, 7.0,12.5,11.5,8.5, 7.5,13.0,12.0,9.0, 8.0,13.5,12.0,8.5],
  [3.9,9.3,8.2,6.2, 4.2,9.0,8.4,5.5, 3.1,9.1,7.4,4.9, 2.7,7.1,5.4,3.4, 1.0,7.0,5.0,2.5, 0.5,7.0,6.0,3.0, 2.0,8.0,7.0,4.0, 2.5,8.5,7.0,4.0, 2.5,9.5,8.0,4.5, 3.0,10.5,9.0,5.0, 3.5,11.5,10.0,6.0, 4.0,12.0,10.5,7.0, 5.0,13.0,11.5,7.5, 5.5,13.5,12.5,8.0, 6.0,14.0,12.0,8.0],
  [4.0,9.5,8.3,6.3, 4.2,9.1,8.5,5.6, 3.2,9.2,7.5,5.0, 2.8,7.4,5.6,3.6, 1.2,8.0,5.8,3.2, 1.8,7.5,6.5,3.8, 3.5,9.0,7.5,5.0, 3.0,8.0,7.0,4.5, 3.0,10.5,9.0,5.5, 4.5,11.0,9.5,6.0, 5.0,12.0,10.5,7.0, 5.5,16.5,14.0,9.5, 7.0,13.0,12.0,8.5, 8.0,18.0,15.5,11.5, 8.5,14.0,12.5,9.0],
  [3.9,9.2,8.1,6.1, 4.2,9.0,8.4,5.5, 3.1,9.1,7.4,4.9, 2.6,7.0,5.3,3.3, 0.8,7.5,5.2,2.5, 1.0,6.8,5.5,2.5, 1.5,7.5,6.0,3.0, 1.0,7.0,6.0,3.0, 1.5,8.5,7.0,3.5, 2.0,9.0,7.5,3.5, 1.5,9.0,7.5,4.0, 2.0,9.5,8.0,4.5, 3.0,10.0,9.0,5.5, 3.5,10.5,9.5,6.0, 4.0,11.0,9.5,6.0],
  [4.1,9.9,8.7,6.6, 4.4,9.6,8.9,5.9, 3.6,9.8,8.0,5.4, 3.3,8.2,6.2,4.2, 2.2,9.8,7.0,4.2, 2.8,9.0,7.8,5.2, 4.2,11.0,9.5,6.5, 5.0,11.5,10.0,7.0, 5.5,12.5,11.0,8.0, 6.5,14.5,12.5,9.0, 7.0,15.5,13.5,9.5, 7.5,16.0,14.0,10.0, 8.5,17.5,15.5,11.5, 9.5,17.0,15.0,11.5, 10.0,16.0,14.5,11.0],
  [3.9,9.1,8.0,6.0, 4.0,8.9,8.2,5.3, 2.9,8.9,7.3,4.7, 2.4,6.8,5.0,3.0, 0.2,6.8,4.8,1.8, -0.8,6.3,5.2,2.2, 0.0,7.5,6.0,2.5, -0.5,7.0,6.0,2.5, 0.5,8.0,6.5,2.5, 0.5,8.5,7.0,3.5, 0.5,9.0,7.5,3.5, 1.0,10.5,9.0,5.0, 2.5,11.5,10.0,6.0, 3.0,11.0,10.0,6.0, 3.5,12.0,10.5,6.5],
  [4.0,9.4,8.3,6.2, 4.2,9.1,8.5,5.5, 3.2,9.2,7.5,5.0, 2.8,7.3,5.5,3.5, 1.3,7.8,5.6,3.1, 1.2,7.4,6.4,3.6, 2.5,9.5,8.0,5.5, 3.5,9.5,8.0,5.5, 4.0,10.0,8.5,5.5, 4.0,11.5,10.0,6.5, 4.5,12.5,11.0,7.5, 5.0,13.0,11.5,8.0, 6.0,14.0,12.5,9.0, 6.5,15.0,13.5,9.5, 7.0,15.5,14.0,10.0],
  [4.0,9.3,8.2,6.2, 4.2,9.0,8.4,5.4, 3.0,9.0,7.4,4.9, 2.7,7.0,5.3,3.3, 0.5,7.2,5.0,2.2, -1.5,6.5,5.5,2.5, 1.0,7.5,6.5,3.5, 1.5,7.5,6.5,3.5, 2.0,8.5,7.5,4.0, 2.5,9.5,8.0,4.5, 3.0,9.5,8.5,5.5, 4.0,10.0,9.0,6.0, 4.5,10.5,9.5,6.5, 5.0,12.0,11.0,7.5, 5.5,12.5,11.0,7.5]
];
const t2mControl = [4.0,9.3,8.2,6.2, 4.2,9.3,8.5,5.5, 2.0,9.3,7.5,5.0, 2.8,7.0,5.0,2.0, 1.8,7.5,5.0,1.5, -1.5,7.0,5.5,2.0, 0.5,7.0,5.5,2.0, 0.5,6.0,4.5,1.5, 0.0,7.0,6.0,3.5, 3.2,10.0,8.0,3.0, 0.0,9.5,8.0,3.0, -0.2,11.3,9.0,7.5, 7.5,10.0,9.5,7.5, 6.0,11.3,11.0,10.0, 8.5,14.2,13.5,10.5];
const t2mOper = [4.0,9.3,8.3,6.3, 4.2,9.2,8.6,5.5, 2.5,9.2,7.5,5.0, 2.5,7.2,4.5,1.1, 2.0,8.9,5.5,2.5, 0.3,7.0,6.0,3.5, 1.8,7.8,6.5,4.0, 3.3,6.2,3.5,3.3, 3.0,3.2,3.5,4.8, 3.5,6.5,6.0,5.3];
const t2mMean = [4.0,9.4,8.2,6.2, 4.2,9.0,8.4,5.5, 3.2,9.2,7.5,5.0, 2.8,7.2,5.5,3.5, 1.2,7.8,5.5,3.0, 1.5,7.2,6.3,3.5, 3.0,8.5,7.0,4.5, 3.3,8.2,7.0,4.8, 3.4,9.3,8.0,5.5, 3.8,10.0,8.5,5.5, 4.2,10.8,9.5,6.5, 4.8,11.0,10.0,7.0, 5.5,11.7,10.5,7.5, 6.0,11.3,10.5,7.8, 6.0,12.0,11.0,7.5];

// --- Sneeuwval/6 uur (cm)
const snowMembers = [
  [0,0,0,0, 0,0,0,0, 0,0,0,0, 0,0,0,0.5, 3.2,0.8,0,0, 0,0,0,0, 0,0,0,0, 0,0,0,0, 0,0,0,0, 0,0,0,0, 0,0,0,0, 0,0,0,0, 0,0,0,0, 0,0,0,0, 0,0,0,0],
  [0,0,0,0, 0,0,0,0, 0,0,0,0, 0,0,0,0.2, 2.7,1.0,0,0, 0,0,0,0, 0,0,0,0, 0,0,0,0, 0,0,0,0, 0,0,0,0, 0.2,0.4,0.1,0, 0,0,0,0, 0,0,0,0, 0,0,0,0, 0,0,0,0],
  [0,0,0,0, 0,0,0,0, 0,0,0,0, 0,0,0,0.1, 2.2,0.3,0,0, 0,0.1,0.6,1.8, 0.2,0,0,0, 0,0,0,0, 0,0,0,0, 0,0,0,0, 0,0,0,0, 0,0,0,0, 0,0,0,0, 0,0,0,0, 0,0,0,0],
  [0,0,0,0, 0,0,0,0, 0,0,0,0, 0,0,0,0, 1.5,0.2,0,0, 0,0,0,0.3, 0.8,2.4,0.3,0, 0,0,0,0, 0,0,0,0, 0,0,0,0, 0,0,0,0, 0,0,0,0, 0,0,0,0, 0,0,0,0, 0,0,0,0],
  [0,0,0,0, 0,0,0,0, 0,0,0,0.1, 0.3,0.2,0,0.2, 1.0,0.4,0,0, 0,0,0,0, 0,0,0.4,1.1, 0.3,0,0,0, 0,0,0,0, 0,0,0,0, 0,0,0,0, 0,0,0,0, 0,0,0,0, 0,0,0,0, 0,0,0,0],
  [0,0,0,0, 0,0,0,0, 0,0,0,0, 0,0,0,0.3, 0.8,0.2,0,0, 0,0,0,0, 0,0,0,0.3, 1.5,0.4,0,0, 0,0,0,0, 0,0,0,0, 0,0,0,0, 0,0,0,0, 0,0,0,0, 0,0,0,0, 0,0,0,0],
  [0,0,0,0, 0,0,0,0, 0,0,0,0, 0,0,0,0, 0.4,0.1,0,0, 0,0,0,0, 0,0,0,0, 0,1.0,0.2,0, 0,0,0,0, 0,0,0,0, 0.4,0.1,0,0, 0,0,0,0, 0,0,0,0, 0,0,0,0, 0,0,0,0],
  [0,0,0,0, 0,0,0,0, 0,0,0,0, 0,0,0,0.2, 2.0,0.5,0,0, 0,0,0,0, 0,0.5,0.1,0, 0,0,0,0, 0,0,0,0, 0,0,0,0, 0.3,0,0,0, 0,0.1,0,0, 0,0,0,0, 0,0,0,0, 0,0,0,0]
];
const snowControl = [0,0,0,0, 0,0,0,0, 0,0,0,0, 0,0,0,0.1, 1.7,0.2,0,0, 0,0,0,0, 0,0,0,0, 0,0.1,0,0, 0,0,0,0, 0,0,0,0, 0,0,0,0, 0,0,0,0, 0,0,0,0, 0,0,0,0, 0,0,0,0];
const snowOper = [0,0,0,0, 0,0,0,0, 0,0,0,0, 0,0,0,0, 0.1,0,0,0, 0,0,0,0, 0,0,0,0, 0,0.1,0,0, 0,0.3,0,0, 0,0,0,0];
const snowMean = [0,0,0,0, 0,0,0,0, 0,0,0,0, 0.01,0.01,0,0.1, 0.4,0.35,0.1,0, 0,0,0.02,0.05, 0.05,0.08,0.05,0.05, 0.03,0.05,0.02,0, 0,0,0,0, 0,0,0,0, 0.03,0.05,0.01,0, 0,0,0,0, 0,0,0,0, 0,0,0,0, 0,0,0,0];

const panels = [
  {col: 0, row: 0, unit: 'mm', name: 'Neerslag/6 uur', domain: [0, 20], ticks: [0, 5, 10, 15, 20],
   members: precip6hMembers, control: precip6hControl, oper: precip6hOper, mean: precip6hMean, dotted: [15]},
  {col: 1, row: 0, unit: 'mm', name: 'Accum Neerslag', domain: [0, 80], ticks: d3.range(0, 81, 10),
   members: precipAccMembers, control: precipAccControl, oper: precipAccOper, mean: precipAccMean, dotted: []},
  {col: 0, row: 1, unit: 'm/s', name: '10m wind', domain: [0, 20], ticks: [0, 5, 10, 15, 20],
   members: windMembers, control: windControl, oper: windOper, mean: windMean, dotted: [10.8, 13.9, 17.2], wideOper: true},
  {col: 1, row: 1, unit: 'm/s', name: 'Windstoten', domain: [0, 35], ticks: d3.range(0, 36, 5),
   members: gustMembers, control: gustControl, oper: gustOper, mean: gustMean, dotted: [20, 25], magenta: 28.5, wideOper: true},
  {col: 0, row: 2, unit: 'Celsius', name: 'T2m', domain: [-5, 25], ticks: d3.range(-5, 26, 5),
   members: t2mMembers, control: t2mControl, oper: t2mOper, mean: t2mMean, dotted: [], zeroLine: true},
  {col: 1, row: 2, unit: 'cm', name: 'Sneeuwval/6 uur', domain: [0, 5], ticks: [0, 1, 2, 3, 4, 5],
   members: snowMembers, control: snowControl, oper: snowOper, mean: snowMean, dotted: []}
];

const colX = [0, 389];
const rowY = [0, 185, 369];
const BLUE = '#3a3aff';
const svg = d3.select('#chart');

const x = d3.scaleLinear().domain([0, 360]).range([32, 358]);

function drawPanel(p) {
  const g = svg.append('g').attr('transform', `translate(${colX[p.col]},${rowY[p.row]})`);
  const y = d3.scaleLinear().domain(p.domain).range([156, 17]);
  const line = d3.line().x((d, i) => x(hours[i])).y(d => y(d));

  // title
  const title = g.append('text').attr('x', 196).attr('y', 12.5)
    .attr('text-anchor', 'middle').attr('font-size', 11.5);
  title.append('tspan').text('Woensdag  4 April    2012  (starttijd  Wo 00 ');
  title.append('tspan').attr('font-weight', 'bold').text('UTC');
  title.append('tspan').text(')');

  // reference lines
  p.dotted.forEach(v => {
    g.append('line').attr('x1', x(0)).attr('x2', x(360)).attr('y1', y(v)).attr('y2', y(v))
      .attr('stroke', '#000').attr('stroke-width', 1).attr('stroke-dasharray', '1,2');
  });
  if (p.magenta != null) {
    g.append('line').attr('x1', x(0)).attr('x2', x(360)).attr('y1', y(p.magenta)).attr('y2', y(p.magenta))
      .attr('stroke', '#ff00ff').attr('stroke-width', 1.2).attr('stroke-dasharray', '4,2');
  }

  // ensemble members
  g.append('g').selectAll('path').data(p.members).join('path')
    .attr('d', line).attr('fill', 'none')
    .attr('stroke', (d, i) => i % 3 === 2 ? '#a9d28b' : '#7cb848')
    .attr('stroke-width', 1.2);

  if (p.zeroLine) {
    g.append('line').attr('x1', x(0)).attr('x2', x(360)).attr('y1', y(0)).attr('y2', y(0))
      .attr('stroke', '#000').attr('stroke-width', 2.5);
  }

  g.append('path').attr('d', line(p.oper)).attr('fill', 'none')
    .attr('stroke', '#ff1a1a').attr('stroke-width', 1.6);
  g.append('path').attr('d', line(p.control)).attr('fill', 'none')
    .attr('stroke', '#2a2aff').attr('stroke-width', 1.6).attr('stroke-dasharray', '5,3');
  g.append('path').attr('d', line(p.mean)).attr('fill', 'none')
    .attr('stroke', '#7a1010').attr('stroke-width', 3).attr('stroke-dasharray', '3,3');

  // axes
  const fmt = d3.format('~g');
  const left = g.append('g').attr('transform', `translate(${x(0)},0)`)
    .call(d3.axisLeft(y).tickValues(p.ticks).tickFormat(fmt).tickSize(3).tickSizeOuter(0).tickPadding(2));
  const right = g.append('g').attr('transform', `translate(${x(360)},0)`)
    .call(d3.axisRight(y).tickValues(p.ticks).tickFormat(fmt).tickSize(3).tickSizeOuter(0).tickPadding(2));
  [left, right].forEach(a => a.selectAll('text').attr('font-size', 9.5).attr('fill', '#000'));
  [left, right].forEach(a => a.attr('font-family', null));
  left.select('.domain').attr('stroke', '#000');
  right.select('.domain').attr('stroke', '#8a8a8a').attr('stroke-width', 2);

  const bottom = g.append('g').attr('transform', 'translate(0,156)');
  bottom.append('line').attr('x1', x(0)).attr('x2', x(360)).attr('stroke', '#000');
  bottom.selectAll('line.six').data(hours.filter(h => h % 24 !== 0)).join('line')
    .attr('class', 'six').attr('x1', d => x(d)).attr('x2', d => x(d)).attr('y1', 0).attr('y2', 3)
    .attr('stroke', '#bbb').attr('stroke-width', 1.5);
  const midnights = d3.range(0, 361, 24);
  bottom.selectAll('text.zero').data(midnights).join('text')
    .attr('class', 'zero').attr('x', d => x(d)).attr('y', 5.8)
    .attr('text-anchor', 'middle').attr('font-size', 5.5).text('00');
  bottom.selectAll('text.day').data(dayLabels).join('text')
    .attr('class', 'day').attr('x', (d, i) => x(24 * i + 12)).attr('y', 10.5)
    .attr('text-anchor', 'middle').attr('font-size', 9.5).text(d => d);

  g.append('text').attr('x', 195).attr('y', 179).attr('text-anchor', 'middle')
    .attr('font-size', 11).attr('font-weight', 'bold').text('Dag');
  g.append('text').attr('x', 372).attr('y', 178).attr('text-anchor', 'end')
    .attr('font-size', 6.6).attr('font-weight', 'bold').attr('fill', '#0000ee').text('Bron:  ECMWF/KNMI');
  g.append('text').attr('transform', 'translate(15,87) rotate(-90)').attr('text-anchor', 'middle')
    .attr('font-size', 12).attr('font-weight', 'bold').text(p.unit);

  // station + variable
  g.append('text').attr('x', 324).attr('y', 27).attr('text-anchor', 'middle')
    .attr('font-size', 10).text('De Bilt');
  g.append('text').attr('x', 320).attr('y', 38.5).attr('text-anchor', 'middle')
    .attr('font-size', 10).text(p.name);

  // legend
  const legend = [
    {label: 'Control', color: '#2a2aff', width: 1.6, dash: '5,3', y: 25},
    {label: 'Oper', color: p.wideOper ? '#ff4d4d' : '#ff1a1a', width: p.wideOper ? 3 : 1.6, dash: null, y: 31.5},
    {label: 'Ens mn', color: '#7a1010', width: 3, dash: '3,2', y: 38}
  ];
  legend.forEach(l => {
    g.append('line').attr('x1', 35).attr('x2', 57).attr('y1', l.y).attr('y2', l.y)
      .attr('stroke', l.color).attr('stroke-width', l.width).attr('stroke-dasharray', l.dash);
    g.append('text').attr('x', 80).attr('y', l.y + 2).attr('text-anchor', 'middle')
      .attr('font-size', 6).text(l.label);
  });
}

panels.forEach(drawPanel);

// frame and separators
svg.append('rect').attr('x', 0.5).attr('y', 0.5).attr('width', 777).attr('height', 553)
  .attr('fill', 'none').attr('stroke', BLUE);
svg.append('line').attr('x1', 389.5).attr('x2', 389.5).attr('y1', 0).attr('y2', 554).attr('stroke', BLUE);
[184.5, 368.5].forEach(v => {
  svg.append('line').attr('x1', 0).attr('x2', 778).attr('y1', v).attr('y2', v).attr('stroke', BLUE);
});
</script>
</body>
</html>
